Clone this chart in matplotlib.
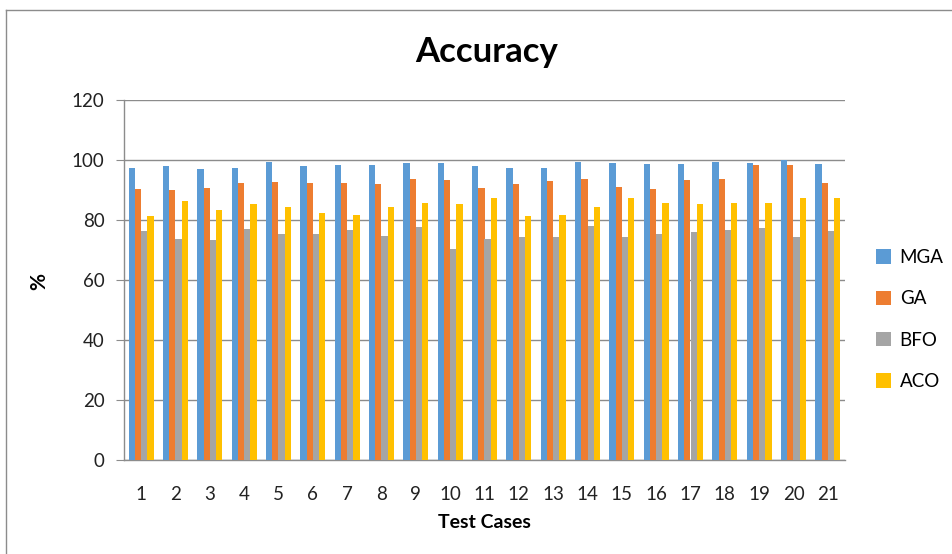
import matplotlib
matplotlib.use("Agg")
import matplotlib.pyplot as plt
import numpy as np
from matplotlib.lines import Line2D

plt.rcParams['font.family'] = ['Lato', 'DejaVu Sans']

cases = [str(i) for i in range(1, 22)]
mga = [97.4, 98.0, 97.0, 97.4, 99.3, 98.0, 98.4, 98.4, 99.0, 99.0, 98.0,
       97.4, 97.4, 99.3, 99.0, 98.7, 98.7, 99.3, 99.0, 100.0, 98.7]
ga = [90.3, 89.9, 90.6, 92.3, 92.7, 92.3, 92.3, 92.0, 93.7, 93.3, 90.6,
      92.0, 93.0, 93.7, 90.9, 90.3, 93.3, 93.7, 98.4, 98.4, 92.3]
bfo = [76.4, 73.8, 73.3, 77.0, 75.4, 75.4, 76.7, 74.6, 77.7, 70.3, 73.8,
       74.3, 74.3, 78.0, 74.3, 75.4, 76.0, 76.7, 77.4, 74.3, 76.4]
aco = [81.4, 86.2, 83.2, 85.2, 84.3, 82.2, 81.8, 84.5, 85.6, 85.2, 87.2,
       81.4, 81.8, 84.5, 87.5, 85.6, 85.2, 85.6, 85.6, 87.2, 87.2]
series = [("MGA", mga, "#5B9BD5"), ("GA", ga, "#ED7D31"),
          ("BFO", bfo, "#A5A5A5"), ("ACO", aco, "#FFC000")]
yticks = [0, 20, 40, 60, 80, 100, 120]

W, H = 953, 554
fig = plt.figure(figsize=(W / 100, H / 100), dpi=100)
ax = fig.add_axes([124 / W, 1 - 460 / H, (845 - 124) / W, (460 - 100) / H])

x = np.arange(1, len(cases) + 1)
bw = 0.182
for i, (name, vals, col) in enumerate(series):
    ax.bar(x + (i - 1.5) * bw, vals, width=bw, color=col, label=name, zorder=3)

ax.set_xlim(0.5, len(cases) + 0.5)
ax.set_ylim(0, 120)
ax.set_yticks(yticks)
ax.set_xticks(x)
ax.set_xticklabels(cases)
ax.yaxis.grid(True, color="#8C8C8C", linewidth=1.0, zorder=0)
ax.set_axisbelow(True)
for s in ["top", "right"]:
    ax.spines[s].set_visible(False)
for s in ["left", "bottom"]:
    ax.spines[s].set_color("#8C8C8C")
    ax.spines[s].set_linewidth(1.0)
ax.tick_params(axis="y", length=6, color="#8C8C8C", labelsize=13.5, pad=8, labelcolor="#222222")
ax.tick_params(axis="x", length=0, labelsize=13.5, pad=19, labelcolor="#222222")

ax.set_xlabel("Test Cases", fontsize=14, fontweight="bold")
ax.set_ylabel("%", fontsize=15, fontweight="bold")
ax.yaxis.set_label_coords((49 - 124) / (845 - 124), (460 - 281) / 360)
ax.xaxis.set_label_coords((484 - 124) / (845 - 124), (460 - 514) / 360)

fig.text(487 / W, 1 - 52 / H, "Accuracy", ha="center", va="center",
         fontsize=25, fontweight="bold")

leg = ax.legend(loc="center left", bbox_to_anchor=(1.02, 0.39), frameon=False,
                fontsize=13.5, handlelength=0.8, handleheight=0.8,
                labelspacing=1.3, handletextpad=0.45)

# chart border (top and left)
fig.add_artist(Line2D([6 / W, 6 / W], [0, 1 - 10 / H], transform=fig.transFigure,
                      color="#8C8C8C", linewidth=1.0))
fig.add_artist(Line2D([6 / W, 1], [1 - 10 / H, 1 - 10 / H], transform=fig.transFigure,
                      color="#8C8C8C", linewidth=1.0))

fig.savefig("out.png", dpi=100)
